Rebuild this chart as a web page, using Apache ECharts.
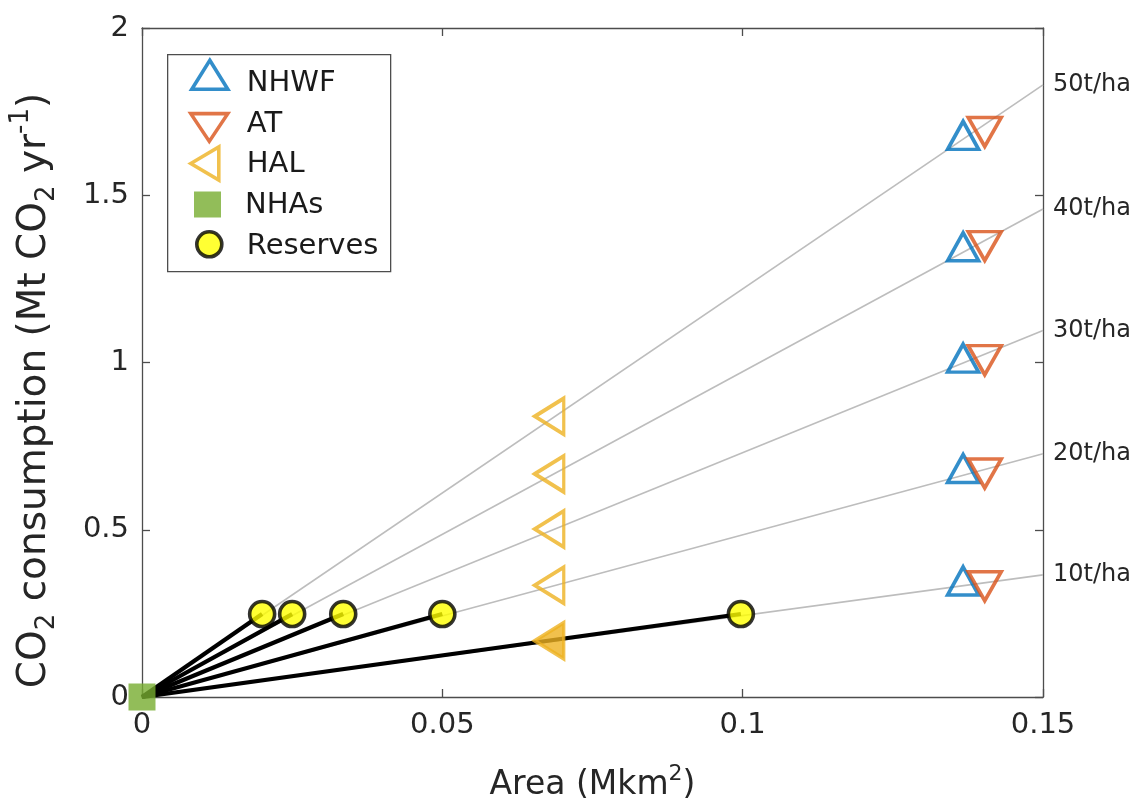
<!DOCTYPE html>
<html>
<head>
<meta charset="utf-8">
<script src="https://cdn.jsdelivr.net/npm/echarts@6/dist/echarts.min.js"></script>
<style>
html,body{margin:0;padding:0;background:#fff;}
#chart{width:1136px;height:801px;}
</style>
</head>
<body>
<div id="chart"></div>
<script>
// ---- data ----
const xTicks = [0, 0.05, 0.1, 0.15];
const yTicks = [0, 0.5, 1, 1.5, 2];
const rateLabels = ['10t/ha', '20t/ha', '30t/ha', '40t/ha', '50t/ha'];
const rateEndX = 0.15;
const rateEndY = [0.365, 0.727, 1.096, 1.459, 1.83];
const reserveX = [0.02, 0.025, 0.0335, 0.05, 0.0997];
const reserveY = [0.248, 0.248, 0.248, 0.248, 0.248];
const nhwfX = [0.1367, 0.1367, 0.1367, 0.1367, 0.1367];
const nhwfY = [0.347, 0.683, 1.013, 1.346, 1.679];
const atX = [0.1403, 0.1403, 0.1403, 0.1403, 0.1403];
const atY = [0.331, 0.668, 1.007, 1.348, 1.689];
const halX = [0.0678, 0.0678, 0.0678, 0.0678, 0.0678];
const halY = [0.168, 0.334, 0.502, 0.667, 0.839];
const halFilled = [true, false, false, false, false];
const nhasX = [0];
const nhasY = [0];
const legendNames = ['NHWF', 'AT', 'HAL', 'NHAs', 'Reserves'];

const FONT = 'DejaVu Sans';
const TXT = '#262626';
const AX = '#4d4d4d';
const C_NHWF = '#0072BD', C_AT = '#D95319', C_HAL = '#EDB120', C_NHA = '#77AC30';

const chart = echarts.init(document.getElementById('chart'), null, {renderer: 'canvas'});

const series = [];
// gray rate lines
rateLabels.forEach((lab, i) => {
  series.push({
    type: 'line', name: lab,
    data: [[0, 0], [rateEndX, rateEndY[i]]],
    showSymbol: false, symbol: 'none', silent: true,
    lineStyle: {color: '#bdbdbd', width: 1.6},
    z: 1,
    endLabel: {show: true, formatter: '{a}', distance: 10, fontFamily: FONT, fontSize: 24, color: TXT}
  });
});
// black lines to reserves
reserveX.forEach((x, i) => {
  series.push({
    type: 'line', name: 'link' + i, data: [[0, 0], [x, reserveY[i]]],
    showSymbol: false, symbol: 'none', silent: true,
    lineStyle: {color: '#000', width: 4.2}, z: 2
  });
});
series.push({
  type: 'scatter', name: 'NHWF', z: 5,
  data: nhwfX.map((x, i) => [x, nhwfY[i]]),
  symbol: 'triangle', symbolSize: [31, 28],
  itemStyle: {color: 'rgba(0,0,0,0)', borderColor: C_NHWF, borderWidth: 3.6}
});
series.push({
  type: 'scatter', name: 'AT', z: 5,
  data: atX.map((x, i) => [x, atY[i]]),
  symbol: 'triangle', symbolSize: [33, 29], symbolRotate: 180,
  itemStyle: {color: 'rgba(0,0,0,0)', borderColor: C_AT, borderWidth: 3.6}
});
series.push({
  type: 'scatter', name: 'HAL', z: 5,
  data: halX.map((x, i) => ({value: [x, halY[i]], itemStyle: {color: halFilled[i] ? C_HAL : 'rgba(0,0,0,0)'}})),
  symbol: 'triangle', symbolSize: [36, 29], symbolRotate: 90,
  itemStyle: {color: 'rgba(0,0,0,0)', borderColor: C_HAL, borderWidth: 3.6}
});
series.push({
  type: 'scatter', name: 'NHAs', z: 6,
  data: nhasX.map((x, i) => [x, nhasY[i]]),
  symbol: 'rect', symbolSize: 27,
  itemStyle: {color: C_NHA, borderWidth: 0}
});
series.push({
  type: 'scatter', name: 'Reserves', z: 6,
  data: reserveX.map((x, i) => [x, reserveY[i]]),
  symbol: 'circle', symbolSize: 25,
  itemStyle: {color: '#ffff00', borderColor: '#000', borderWidth: 3.6}
});

// legend: one component per entry so each icon can have its own size
const legSpec = {
  NHWF:     {icon: 'triangle', w: 36, h: 29, cy: 73,  left: 190, textShift: 8.5, bw: 3.6},
  AT:       {icon: 'path://M0,0L36,0L18,27Z', w: 37, h: 28, cy: 124, left: 189, textShift: -3, bw: 3.6},
  HAL:      {icon: 'path://M0,16.5L28,0L28,33Z', w: 28, h: 33, cy: 161.7, left: 189, textShift: 0.5, bw: 3.6},
  NHAs:     {icon: 'rect', w: 27, h: 26, cy: 204, left: 194, textShift: 1, bw: 0},
  Reserves: {icon: 'circle', w: 25, h: 25, cy: 242.5, left: 195, textShift: 2.5, bw: 3.6}
};
const legends = legendNames.map(n => {
  const s = legSpec[n];
  const sh = s.textShift;
  const gapLeft = 245 - (s.left + s.w) - 5;
  return {
    orient: 'vertical', left: s.left, top: s.cy - s.h / 2, padding: 0,
    itemWidth: s.w, itemHeight: s.h, itemGap: 0,
    selectedMode: false,
    formatter: name => '{t|' + name + '}',
    textStyle: {fontFamily: FONT, fontSize: 29, color: '#1a1a1a',
      rich: {t: {fontFamily: FONT, fontSize: 29, color: '#1a1a1a',
        padding: sh >= 0 ? [2 * sh, 0, 0, gapLeft] : [0, 0, -2 * sh, gapLeft]}}},
    itemStyle: {borderWidth: s.bw},
    symbolKeepAspect: true,
    data: [{name: n, icon: s.icon}]
  };
});

const axisCommon = {
  axisLine: {show: true, onZero: false, lineStyle: {color: AX, width: 1.3}},
  axisTick: {show: true, inside: true, length: 8, lineStyle: {color: AX, width: 1.3}},
  splitLine: {show: false}
};

const option = {
  backgroundColor: '#fff',
  animation: false,
  grid: {left: 142, right: 93, top: 28, bottom: 104, containLabel: false, outerBoundsMode: 'none'},
  graphic: [{
    type: 'rect', left: 167, top: 54, z: 50,
    shape: {width: 223, height: 217},
    style: {fill: 'rgba(0,0,0,0)', stroke: AX, lineWidth: 1.3},
    silent: true
  }],
  legend: legends,
  xAxis: [
    Object.assign({
      type: 'value', min: 0, max: 0.15, interval: 0.05, position: 'bottom',
      name: 'Area (Mkm{sup|2})', nameLocation: 'middle', nameGap: 66,
      nameTextStyle: {fontFamily: FONT, fontSize: 33, color: TXT,
        rich: {sup: {fontFamily: FONT, fontSize: 22, color: TXT, padding: [0, 0, 22, 0]}}},
      axisLabel: {fontFamily: FONT, fontSize: 29, color: TXT, margin: 14,
        formatter: v => xTicks.indexOf(+v.toFixed(4)) >= 0 ? String(+v.toFixed(4)) : ''}
    }, axisCommon),
    Object.assign({
      type: 'value', min: 0, max: 0.15, interval: 0.05, position: 'top',
      axisLabel: {show: false}
    }, axisCommon)
  ],
  yAxis: [
    Object.assign({
      type: 'value', min: 0, max: 2, interval: 0.5, position: 'left',
      name: 'CO{sub|2} consumption (Mt CO{sub|2} yr{sup|-1})', nameLocation: 'middle', nameGap: 80,
      nameTextStyle: {fontFamily: FONT, fontSize: 39, color: TXT, padding: [0, 56, 0, 0],
        rich: {
          sub: {fontFamily: FONT, fontSize: 26, color: TXT, padding: [24, 0, 0, 0]},
          sup: {fontFamily: FONT, fontSize: 26, color: TXT, padding: [0, 0, 28, 0]}
        }},
      axisLabel: {fontFamily: FONT, fontSize: 29, color: TXT, margin: 13,
        formatter: v => yTicks.indexOf(+v.toFixed(4)) >= 0 ? String(+v.toFixed(4)) : ''}
    }, axisCommon),
    Object.assign({
      type: 'value', min: 0, max: 2, interval: 0.5, position: 'right',
      axisLabel: {show: false}
    }, axisCommon)
  ],
  series: series
};
chart.setOption(option);
</script>
</body>
</html>
